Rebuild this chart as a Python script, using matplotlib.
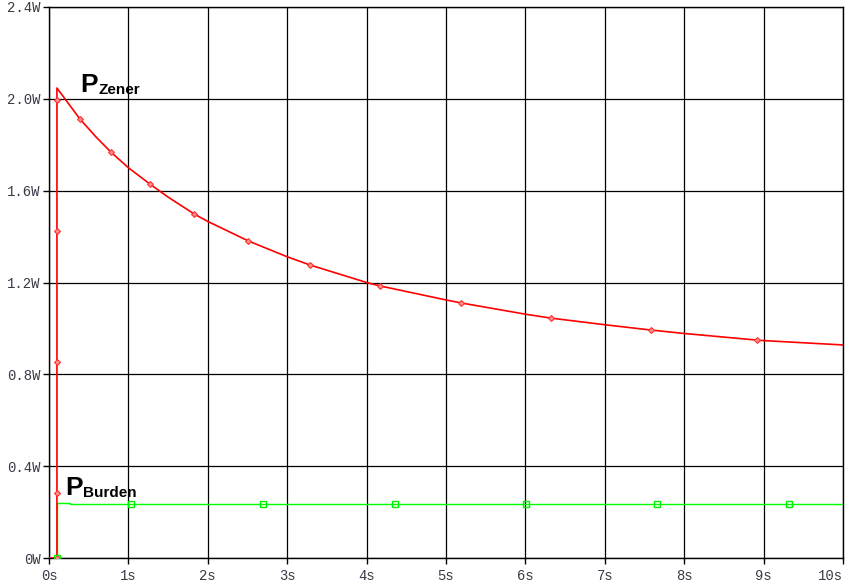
import matplotlib
matplotlib.use("Agg")
import matplotlib.pyplot as plt

# P_Zener trace (time in s, power in W)
zener_t = [0, 0.1, 0.1, 0.39, 0.6, 0.78, 1.0, 1.27, 1.5, 1.83, 2.0, 2.51, 3.0, 3.29,
           4.0, 4.17, 5.0, 5.19, 6.0, 6.32, 7.0, 7.58, 8.0, 8.92, 9.0, 10.0]
zener_p = [0, 0, 2.047, 1.912, 1.831, 1.768, 1.700, 1.629, 1.572, 1.498, 1.466, 1.381, 1.312, 1.276,
           1.200, 1.185, 1.124, 1.111, 1.062, 1.045, 1.016, 0.993, 0.978, 0.949, 0.947, 0.928]
zener_mark_t = [0.1, 0.1, 0.1, 0.1, 0.1, 0.39, 0.78, 1.27, 1.83, 2.51, 3.29, 4.17, 5.19, 6.32, 7.58, 8.92]
zener_mark_p = [0, 0.283, 0.854, 1.424, 1.995, 1.912, 1.768, 1.629, 1.498, 1.381, 1.276, 1.185,
                1.111, 1.045, 0.993, 0.949]

# P_Burden trace
burden_t = [0, 0.1, 0.1, 0.265, 0.265, 10]
burden_p = [0, 0, 0.239, 0.239, 0.235, 0.235]
burden_mark_t = [0.1, 1.03, 2.7, 4.36, 6.01, 7.66, 9.32]
burden_mark_p = [0, 0.235, 0.235, 0.235, 0.235, 0.235, 0.235]

x_ticks = list(range(0, 11))
x_labels = [f"{v}s" for v in x_ticks]
y_ticks = [0, 0.4, 0.8, 1.2, 1.6, 2.0, 2.4]
y_labels = ["0W", "0.4W", "0.8W", "1.2W", "1.6W", "2.0W", "2.4W"]

fig = plt.figure(figsize=(8.47, 5.82), dpi=100)
ax = fig.add_axes([49 / 847, 24 / 582, 794 / 847, 551 / 582])

ax.plot(burden_t, burden_p, color="#00ff00", lw=1.0, zorder=3)
ax.plot(zener_t, zener_p, color="#ff0000", lw=1.2, zorder=4)
ax.plot(zener_mark_t, zener_mark_p, ls="none", marker="D", ms=3, mec="#ff3030",
        mfc="#ff9090", mew=0.8, zorder=5)
ax.plot(burden_mark_t, burden_mark_p, ls="none", marker="s", ms=4, mec="#00ee00",
        mfc="none", mew=1.0, zorder=6)

ax.set_xlim(0, 10)
ax.set_ylim(0, 2.4)
ax.set_xticks(x_ticks)
ax.set_xticklabels(x_labels)
ax.set_yticks(y_ticks)
ax.set_yticklabels(y_labels)
ax.get_xticklabels()[-1].set_ha("right")
ax.grid(True, color="black", lw=0.9)
ax.set_axisbelow(True)
for s in ax.spines.values():
    s.set_color("black")
    s.set_linewidth(1.0)
ax.tick_params(length=4, width=1.0, color="black", pad=2,
               labelsize=10, labelcolor="#3a3a48")
ax.tick_params(axis="x", pad=4)
for lab in ax.get_xticklabels() + ax.get_yticklabels():
    lab.set_family("Liberation Mono")

# labels
ax.text(0.39, 2.03, "P", family="Liberation Sans", weight="bold", fontsize=19, va="baseline")
ax.text(0.62, 2.02, "Zener", family="Liberation Sans", weight="bold", fontsize=11, va="baseline")
ax.text(0.2, 0.274, "P", family="Liberation Sans", weight="bold", fontsize=19, va="baseline")
ax.text(0.425, 0.266, "Burden", family="Liberation Sans", weight="bold", fontsize=11, va="baseline")

fig.savefig("out.png", dpi=100)
